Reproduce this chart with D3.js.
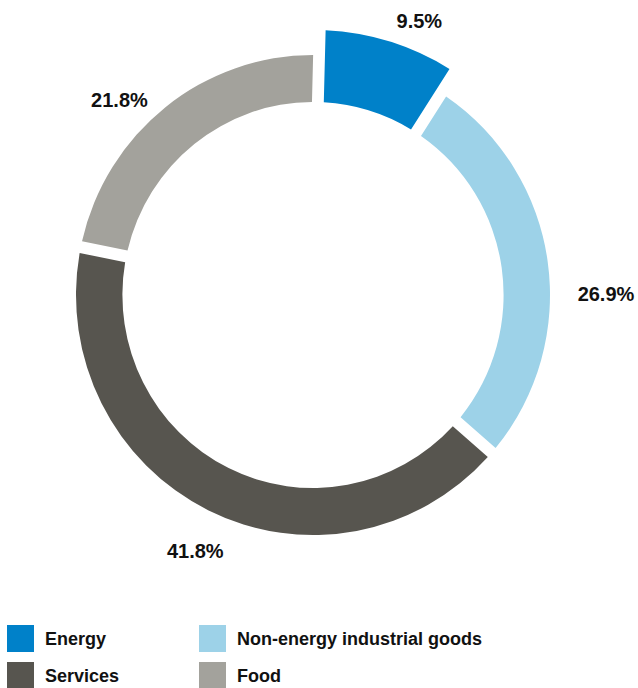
<!DOCTYPE html>
<html>
<head>
<meta charset="utf-8">
<script src="https://cdn.jsdelivr.net/npm/d3@7"></script>
<style>
  html, body { margin: 0; padding: 0; background: #ffffff; }
  svg { display: block; }
  text { font-family: "Liberation Sans", Arial, sans-serif; font-weight: bold; fill: #111111; }
</style>
</head>
<body>
<svg id="chart" width="638" height="688"></svg>
<script>
// ---- data ----
const categories = ["Energy", "Non-energy industrial goods", "Services", "Food"];
const values = [9.5, 26.9, 41.8, 21.8];
const valueLabels = ["9.5%", "26.9%", "41.8%", "21.8%"];
const colors = ["#0081c9", "#9dd2e8", "#57554f", "#a3a29c"];

// ---- layout (styling, not data) ----
const cx = 313, cy = 295;
const innerR = 193, outerR = 240, highlightOuterR = 265;
const xSquash = 0.9875;
const gapPx = 12;
const highlightShift = 0.0256;          // gaps around the highlighted slice lean toward it
const labelAngleNudge = [4.1, 7.2, -1.6, -5.5]; // degrees
const labelRadius = [294, 293, 282, 275];

const svg = d3.select("#chart");

const pie = d3.pie().sort(null).value(d => d).startAngle(0).endAngle(2 * Math.PI);
const arcsData = pie(values);

// highlighted first slice: shift neighbouring boundaries toward it
const n = arcsData.length;
arcsData[0].startAngle += highlightShift;
arcsData[0].endAngle -= highlightShift;
arcsData[1].startAngle -= highlightShift;
arcsData[n - 1].endAngle += highlightShift;

const arc = d3.arc()
  .innerRadius(innerR)
  .outerRadius((d, i) => d.index === 0 ? highlightOuterR : outerR)
  .padRadius(200)
  .padAngle(gapPx / 200);

const g = svg.append("g")
  .attr("transform", `translate(${cx},${cy}) scale(${xSquash},1)`);

g.selectAll("path")
  .data(arcsData)
  .join("path")
  .attr("d", d => arc(d))
  .attr("fill", (d, i) => colors[i]);

// value labels
const pieRaw = pie(values);
const lg = svg.append("g").attr("transform", `translate(${cx},${cy})`);
lg.selectAll("text")
  .data(pieRaw)
  .join("text")
  .attr("x", (d, i) => {
    const a = (d.startAngle + d.endAngle) / 2 + labelAngleNudge[i] * Math.PI / 180;
    return Math.sin(a) * labelRadius[i];
  })
  .attr("y", (d, i) => {
    const a = (d.startAngle + d.endAngle) / 2 + labelAngleNudge[i] * Math.PI / 180;
    return -Math.cos(a) * labelRadius[i];
  })
  .attr("dy", "0.35em")
  .attr("text-anchor", "middle")
  .style("font-size", "20px")
  .text((d, i) => valueLabels[i]);

// legend
const legCol = d3.scaleOrdinal().domain([0, 1]).range([7, 199]);
const legRow = d3.scaleOrdinal().domain([0, 1]).range([625, 662]);
const sq = 27;
const leg = svg.append("g");
const items = leg.selectAll("g")
  .data(categories)
  .join("g")
  .attr("transform", (d, i) => `translate(${legCol(i % 2)},${legRow(Math.floor(i / 2))})`);
items.append("rect")
  .attr("width", sq).attr("height", sq)
  .attr("fill", (d, i) => colors[i]);
items.append("text")
  .attr("x", 38)
  .attr("y", sq / 2)
  .attr("dy", "0.35em")
  .style("font-size", "18px")
  .text(d => d);
</script>
</body>
</html>
